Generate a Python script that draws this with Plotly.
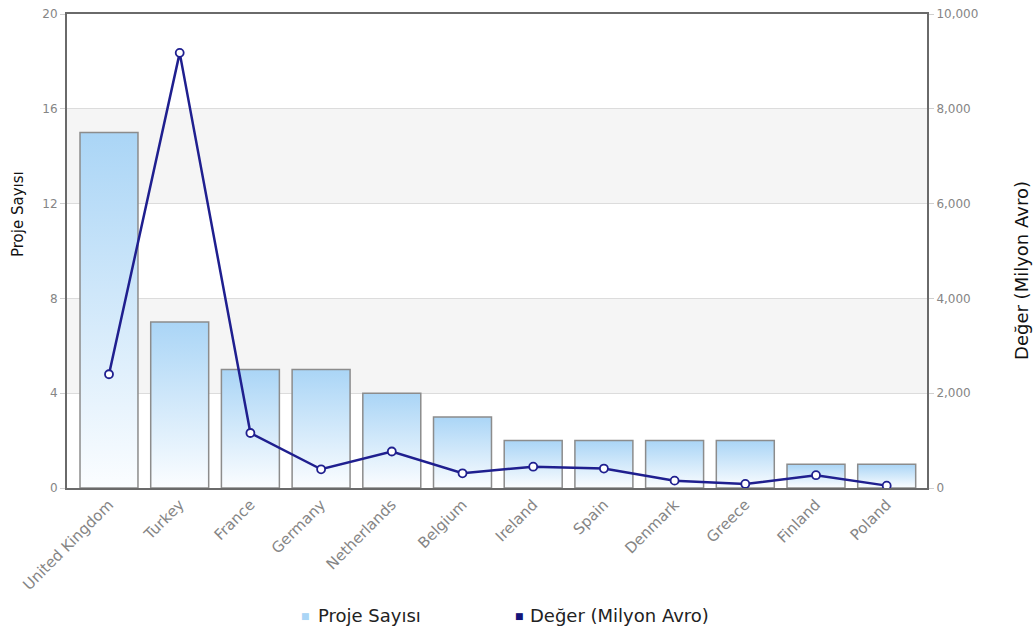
import plotly.graph_objects as go

# Countries and their project counts / values
countries = ["United Kingdom", "Turkey", "France", "Germany", "Netherlands", "Belgium",
             "Ireland", "Spain", "Denmark", "Greece", "Finland", "Poland"]
proje_sayisi = [15, 7, 5, 5, 4, 3, 2, 2, 2, 2, 1, 1]
deger_milyon_avro = [2400, 9180, 1160, 395, 770, 310, 450, 410, 155, 85, 270, 50]

left_ticks = [0, 4, 8, 12, 16, 20]
right_ticks = [0, 2000, 4000, 6000, 8000, 10000]

BAR_WIDTH = 0.82
LINE_COLOR = "#1f1f8f"
BAR_TOP = "#aad5f6"
TICK_FONT = dict(family="DejaVu Sans", size=12, color="#858585")
XTICK_FONT = dict(family="DejaVu Sans", size=15, color="#858585")

fig = go.Figure()

# Bars drawn as filled polygons so each one carries its own vertical gradient
for i, v in enumerate(proje_sayisi):
    x0, x1 = i - BAR_WIDTH / 2, i + BAR_WIDTH / 2
    fig.add_trace(go.Scatter(
        x=[x0, x0, x1, x1, x0], y=[0, v, v, 0, 0],
        mode="lines", fill="toself",
        fillgradient=dict(type="vertical",
                          colorscale=[[0, "#fbfdff"], [1, BAR_TOP]]),
        line=dict(color="#8c8c8c", width=1.5),
        showlegend=False, hoverinfo="skip", yaxis="y",
    ))

# Value line on the secondary axis
fig.add_trace(go.Scatter(
    x=list(range(len(countries))), y=deger_milyon_avro, yaxis="y2",
    mode="lines+markers",
    line=dict(color=LINE_COLOR, width=2.5),
    marker=dict(symbol="circle", size=8, color="white",
                line=dict(color=LINE_COLOR, width=1.8)),
    showlegend=False,
))

# Alternating background bands
shapes = []
for lo, hi in [(4, 8), (12, 16)]:
    shapes.append(dict(type="rect", xref="paper", yref="y", x0=0, x1=1, y0=lo, y1=hi,
                       fillcolor="#f5f5f5", line=dict(width=0), layer="below"))

annotations = []

# Axis titles
annotations.append(dict(xref="paper", yref="paper", x=-0.057, y=0.578,
                        xanchor="center", yanchor="middle", showarrow=False,
                        textangle=-90, text="Proje Sayısı",
                        font=dict(family="DejaVu Sans", size=15, color="#111")))
annotations.append(dict(xref="paper", yref="paper", x=1.1105, y=0.458,
                        xanchor="center", yanchor="middle", showarrow=False,
                        textangle=-90, text="Değer (Milyon Avro)",
                        font=dict(family="DejaVu Sans", size=18, color="#111")))

# Legend drawn below the plot: small coloured square followed by the series name
LEGEND_Y = -0.270
legend_items = [("Proje Sayısı", BAR_TOP, 0.2779, 0.2895),
                ("Değer (Milyon Avro)", "#14147a", 0.5256, 0.5360)]
for name, color, mx, tx in legend_items:
    annotations.append(dict(xref="paper", yref="paper", x=mx, y=LEGEND_Y,
                            xanchor="center", yanchor="middle", showarrow=False,
                            text="■", font=dict(family="DejaVu Sans", size=9, color=color)))
    annotations.append(dict(xref="paper", yref="paper", x=tx, y=LEGEND_Y,
                            xanchor="left", yanchor="middle", showarrow=False,
                            text=name, font=dict(family="DejaVu Sans", size=18, color="#222")))

fig.update_layout(
    width=1036, height=633,
    margin=dict(l=67, r=109, t=14, b=145),
    plot_bgcolor="white", paper_bgcolor="white",
    shapes=shapes, annotations=annotations,
    showlegend=False,
    xaxis=dict(
        range=[-0.594, 11.57], automargin=False,
        tickmode="array", tickvals=list(range(len(countries))), ticktext=countries,
        tickangle=-45, tickfont=XTICK_FONT,
        showgrid=False, zeroline=False,
        showline=True, linecolor="#6a6a6a", linewidth=2, mirror=True,
        ticks="", fixedrange=True,
    ),
    yaxis=dict(
        range=[0, 20], tickvals=left_ticks, ticktext=[str(t) for t in left_ticks],
        tickfont=TICK_FONT, automargin=False,
        showgrid=True, gridcolor="#dcdcdc", gridwidth=1, zeroline=False,
        showline=True, linecolor="#6a6a6a", linewidth=2,
        ticks="outside", ticklen=5, tickcolor="#cfcfcf",
    ),
    yaxis2=dict(
        range=[0, 10000], tickvals=right_ticks,
        ticktext=[f"{t:,}" for t in right_ticks],
        tickfont=TICK_FONT, overlaying="y", side="right", automargin=False,
        showgrid=False, zeroline=False,
        showline=True, linecolor="#6a6a6a", linewidth=2,
        ticks="outside", ticklen=5, tickcolor="#cfcfcf",
    ),
)

fig.write_html("out.html")
